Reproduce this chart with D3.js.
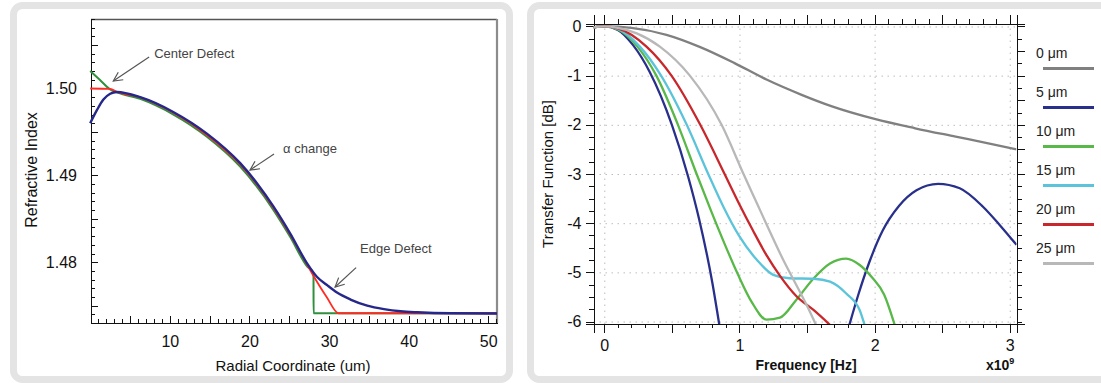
<!DOCTYPE html>
<html>
<head>
<meta charset="utf-8">
<style>
  body { margin: 0; background: #fff; }
  svg { display: block; font-family: 'Liberation Sans', Arial, sans-serif; }
  .axis path, .axis line { stroke: #111; shape-rendering: crispEdges; }
  .axis text { fill: #111; }
  .grid line { stroke: #bdbdbd; stroke-dasharray: 1.5,4.5; }
  .grid path { display: none; }
  .note { font-size: 13px; fill: #444; }
</style>
</head>
<body>
<script src="https://cdn.jsdelivr.net/npm/d3@7"></script>
<script>

var W = 1101, H = 383;
var FONT = "'Liberation Sans', Arial, sans-serif";

// ---- left panel : index profiles, [radius um, refractive index]
var profileIdeal = [[0,1.5000],[2.5,1.49995],[3.35,1.49962],[6.28,1.49897],[10.45,1.49720],[14.66,1.49465],
  [18.84,1.49125],[20.94,1.48895],[23.03,1.48625],[25.13,1.48315],[27.22,1.47975],[28.0,1.4785],
  [29.7,1.4760],[31.2,1.47412],[51.1,1.47412]];
var profileEdge = [[0,1.5020],[1.2,1.5010],[2.5,1.4999],[3.35,1.49956],[6.28,1.49880],[10.46,1.49700],
  [14.66,1.49445],[18.84,1.49100],[23.03,1.48600],[25.13,1.48290],[27.22,1.47955],[28.05,1.47875],
  [28.06,1.47412],[51.1,1.47412]];
var profileCenter = [[0,1.4960],[0.84,1.4975],[1.63,1.4987],[2.51,1.4994],[3.35,1.4996],[6.28,1.4990],
  [10.43,1.4973],[14.66,1.4948],[18.84,1.4914],[20.94,1.4891],[23.03,1.4864],[25.13,1.4833],
  [27.22,1.4799],[28.5,1.4783],[29.7,1.4774],[31.0,1.4765],[32.7,1.4757],[34.8,1.4750],
  [36.9,1.4746],[39.0,1.47435],[41.1,1.47423],[45.3,1.47412],[51.1,1.4741]];
var radialTicks = [10, 20, 30, 40, 50];
var indexTicks = [1.48, 1.49, 1.50];

// ---- right panel : transfer function, [frequency x1e9 Hz, dB]
var tf0 = [[-0.08,-0.02],[0,0],[0.2,-0.03],[0.46,-0.17],[0.71,-0.42],[0.96,-0.74],[1.2,-1.08],
  [1.46,-1.39],[1.69,-1.63],[2.0,-1.88],[2.3,-2.07],[2.6,-2.24],[2.85,-2.38],[3.05,-2.5]];
var tf5 = [[-0.08,-0.02],[0,0],[0.1,-0.07],[0.213,-0.38],[0.337,-0.93],[0.50,-2.0],[0.62,-3.05],
  [0.70,-3.9],[0.80,-5.22],[0.85,-6.05],[0.87,-6.4], null,
  [1.81,-6.1],[1.88,-5.45],[1.96,-4.8],[2.06,-4.15],[2.18,-3.65],[2.31,-3.33],[2.47,-3.20],
  [2.63,-3.29],[2.80,-3.66],[2.93,-4.05],[3.05,-4.44]];
var tf10 = [[-0.08,-0.02],[0,0],[0.1,-0.06],[0.245,-0.41],[0.385,-1.0],[0.545,-2.0],[0.683,-3.0],
  [0.79,-3.75],[0.89,-4.42],[0.99,-5.05],[1.09,-5.6],[1.2,-5.96],[1.30,-5.92],[1.42,-5.56],
  [1.55,-5.12],[1.67,-4.82],[1.79,-4.72],[1.89,-4.85],[1.98,-5.1],[2.07,-5.45],[2.15,-6.08]];
var tf15 = [[-0.08,-0.02],[0,0],[0.1,-0.05],[0.263,-0.41],[0.42,-1.0],[0.61,-2.0],[0.769,-3.0],
  [0.88,-3.66],[1.0,-4.27],[1.13,-4.75],[1.25,-5.05],[1.37,-5.12],[1.55,-5.13],[1.67,-5.19],
  [1.79,-5.43],[1.89,-5.77],[1.94,-6.2]];
var tf20 = [[-0.08,-0.02],[0,0],[0.1,-0.04],[0.312,-0.41],[0.497,-1.0],[0.71,-2.0],[0.89,-3.0],
  [1.0,-3.62],[1.1,-4.15],[1.2,-4.65],[1.3,-5.07],[1.42,-5.48],[1.55,-5.77],[1.72,-6.2]];
var tf25 = [[-0.08,-0.02],[0,0],[0.1,-0.03],[0.24,-0.14],[0.411,-0.41],[0.633,-1.0],[0.868,-2.0],
  [1.03,-3.0],[1.13,-3.6],[1.23,-4.2],[1.33,-4.78],[1.41,-5.2],[1.50,-5.68],[1.58,-6.15]];
var offsetLabels = ["0 \u03bcm", "5 \u03bcm", "10 \u03bcm", "15 \u03bcm", "20 \u03bcm", "25 \u03bcm"];
var freqTicks = [0, 1, 2, 3];
var dbTicks = [0, -1, -2, -3, -4, -5, -6];

var offsetColors = ["#808080", "#28308c", "#58b848", "#5cc4da", "#c8282c", "#b8b8b8"];

var svg = d3.select("body").append("svg")
    .attr("width", W)
    .attr("height", H);

// panel frames
svg.append("rect").attr("x", 13.5).attr("y", 5.5).attr("width", 496).attr("height", 374)
    .attr("rx", 9).attr("fill", "#fff").attr("stroke", "#e4e4e4").attr("stroke-width", 7);
svg.append("rect").attr("x", 530.5).attr("y", 5.5).attr("width", 600).attr("height", 374)
    .attr("rx", 9).attr("fill", "#fff").attr("stroke", "#e4e4e4").attr("stroke-width", 7);

function axisG(t) {
  return svg.append("g").attr("class", "axis").attr("transform", t);
}
function fontUp(g, size) {
  g.attr("font-size", size).attr("font-family", FONT);
  return g;
}

// ================= left chart =================
var xL = d3.scaleLinear().domain([0.1, 51.1]).range([91, 497]);
var yL = d3.scaleLinear().domain([1.473, 1.508]).range([323, 19]);

// frame top + right
svg.append("line").attr("x1", 91).attr("x2", 497).attr("y1", 19.5).attr("y2", 19.5)
    .attr("stroke", "#555").attr("stroke-width", 1.3);
svg.append("line").attr("x1", 497).attr("x2", 497).attr("y1", 19).attr("y2", 323)
    .attr("stroke", "#8c8c8c").attr("stroke-width", 2.2);

axisG("translate(0,323)")
    .call(d3.axisBottom(xL).tickValues(d3.range(1, 52)).tickSizeInner(-4).tickSizeOuter(0).tickFormat(""));
axisG("translate(0,323)")
    .call(d3.axisBottom(xL).tickValues([5, 15, 25, 35, 45]).tickSize(-7).tickFormat(""))
    .select(".domain").remove();
fontUp(axisG("translate(0,323)")
    .call(d3.axisBottom(xL).tickValues(radialTicks).tickSize(-7).tickPadding(13).tickFormat(d3.format("d"))), 16)
    .select(".domain").remove();

axisG("translate(91,0)")
    .call(d3.axisLeft(yL).tickValues(d3.range(1474, 1509).map(function(d) { return d / 1000; }))
      .tickSizeInner(-4).tickSizeOuter(0).tickFormat(""));
axisG("translate(91,0)")
    .call(d3.axisLeft(yL).tickValues([1.475, 1.485, 1.495, 1.505]).tickSize(-7).tickFormat(""))
    .select(".domain").remove();
fontUp(axisG("translate(91,0)")
    .call(d3.axisLeft(yL).tickValues(indexTicks).tickSize(-7).tickPadding(14).tickFormat(d3.format(".2f"))), 16)
    .select(".domain").remove();

var lineL = d3.line()
    .x(function(d) { return xL(d[0]); })
    .y(function(d) { return yL(d[1]); })
    .curve(d3.curveMonotoneX);

[[profileEdge, "#2f8f3c", 2], [profileIdeal, "#ff2a22", 1.8], [profileCenter, "#25288a", 2.4]].forEach(function(s) {
  svg.append("path").datum(s[0])
      .attr("d", lineL)
      .attr("fill", "none")
      .attr("stroke", s[1])
      .attr("stroke-width", s[2]);
});

// annotations with arrows
svg.append("defs").append("marker")
    .attr("id", "arrow")
    .attr("viewBox", "-1 -6 12 12")
    .attr("refX", 9).attr("refY", 0)
    .attr("markerWidth", 12).attr("markerHeight", 12)
    .attr("markerUnits", "userSpaceOnUse")
    .attr("orient", "auto")
  .append("path")
    .attr("d", "M0,-4.5L9,0L0,4.5")
    .attr("fill", "none").attr("stroke", "#555").attr("stroke-width", 1.2);

var notes = [
  { text: "Center Defect", at: [8.03, 1.50354], from: [7.4, 1.50362], to: [2.9, 1.50086] },
  { text: "\u03b1 change", at: [24.23, 1.49261], from: [23.09, 1.49246], to: [20.08, 1.49061] },
  { text: "Edge Defect", at: [33.9, 1.48109], from: [33.4, 1.47937], to: [30.76, 1.47714] }
];
notes.forEach(function(n) {
  svg.append("line")
      .attr("x1", xL(n.from[0])).attr("y1", yL(n.from[1]))
      .attr("x2", xL(n.to[0])).attr("y2", yL(n.to[1]))
      .attr("stroke", "#555").attr("stroke-width", 1.2)
      .attr("marker-end", "url(#arrow)");
  svg.append("text").attr("class", "note")
      .attr("x", xL(n.at[0])).attr("y", yL(n.at[1]))
      .text(n.text);
});

svg.append("text")
    .attr("x", 293).attr("y", 371)
    .attr("text-anchor", "middle").attr("font-size", 15).attr("fill", "#111")
    .text("Radial Coordinate (um)");
svg.append("text")
    .attr("transform", "translate(37,170) rotate(-90)")
    .attr("text-anchor", "middle").attr("font-size", 16).attr("fill", "#111")
    .text("Refractive Index");

// ================= right chart =================
var xR = d3.scaleLinear().domain([-0.08, 3.05]).range([593.5, 1016.5]);
var yR = d3.scaleLinear().domain([0.05, -6.05]).range([24, 324]);

svg.append("g").attr("class", "grid").attr("transform", "translate(0,324)")
    .call(d3.axisBottom(xR).tickValues(freqTicks).tickSize(-300).tickFormat(""));
svg.append("g").attr("class", "grid").attr("transform", "translate(593.5,0)")
    .call(d3.axisLeft(yR).tickValues(dbTicks).tickSize(-423).tickFormat(""));

var tenths = d3.range(0, 31).map(function(i) { return i / 10; });
var halves = d3.range(0, 7).map(function(i) { return i / 2; });
var quarters = d3.range(0, 25).map(function(i) { return -i / 4; });

axisG("translate(0,24)").call(d3.axisTop(xR).tickValues(tenths).tickSizeInner(5).tickSizeOuter(0).tickFormat(""));
axisG("translate(0,24)").call(d3.axisTop(xR).tickValues(halves).tickSize(9).tickFormat(""));
axisG("translate(0,324)").call(d3.axisBottom(xR).tickValues(tenths).tickSizeInner(4).tickSizeOuter(0).tickFormat(""));
axisG("translate(0,324)").call(d3.axisBottom(xR).tickValues(halves).tickSize(9).tickFormat(""));
fontUp(axisG("translate(0,324)")
    .call(d3.axisBottom(xR).tickValues(freqTicks).tickSize(9).tickPadding(7).tickFormat(String)), 16);

axisG("translate(593.5,0)").call(d3.axisLeft(yR).tickValues(quarters).tickSizeInner(5).tickSizeOuter(0).tickFormat(""));
fontUp(axisG("translate(593.5,0)")
    .call(d3.axisLeft(yR).tickValues(dbTicks).tickSize(8).tickPadding(4).tickFormat(String)), 16);
axisG("translate(1016.5,0)").call(d3.axisRight(yR).tickValues(quarters).tickSizeInner(5).tickSizeOuter(0).tickFormat(""));
axisG("translate(1016.5,0)").call(d3.axisRight(yR).tickValues(halves.map(function(d) { return -d; })).tickSize(8).tickFormat(""));

svg.append("clipPath").attr("id", "plotR")
  .append("rect").attr("x", 593.5).attr("y", 24).attr("width", 423).attr("height", 300);

var lineR = d3.line()
    .defined(function(d) { return d !== null; })
    .x(function(d) { return xR(d[0]); })
    .y(function(d) { return yR(d[1]); })
    .curve(d3.curveMonotoneX);

var gCurves = svg.append("g").attr("clip-path", "url(#plotR)");
[tf0, tf5, tf10, tf15, tf20, tf25].forEach(function(s, i) {
  gCurves.append("path").datum(s)
      .attr("d", lineR)
      .attr("fill", "none")
      .attr("stroke", offsetColors[i])
      .attr("stroke-width", 2.3);
});

// legend
var legend = svg.append("g").attr("font-size", 14).attr("fill", "#222");
offsetLabels.forEach(function(t, i) {
  legend.append("text").attr("x", 1036).attr("y", 58 + i * 39).text(t);
  legend.append("line")
      .attr("x1", 1043).attr("x2", 1094)
      .attr("y1", 68.5 + i * 39).attr("y2", 68.5 + i * 39)
      .attr("stroke", offsetColors[i]).attr("stroke-width", 3);
});

svg.append("text")
    .attr("x", 806).attr("y", 370)
    .attr("text-anchor", "middle").attr("font-size", 14).attr("font-weight", "bold").attr("fill", "#111")
    .text("Frequency [Hz]");
var xExp = svg.append("text")
    .attr("x", 986).attr("y", 370)
    .attr("font-size", 14).attr("font-weight", "bold").attr("fill", "#111")
    .text("x10");
xExp.append("tspan").attr("dy", -6).attr("font-size", 9).text("9");

svg.append("text")
    .attr("transform", "translate(553,174) rotate(-90)")
    .attr("text-anchor", "middle").attr("font-size", 15).attr("fill", "#111")
    .text("Transfer Function [dB]");

</script>
</body>
</html>
